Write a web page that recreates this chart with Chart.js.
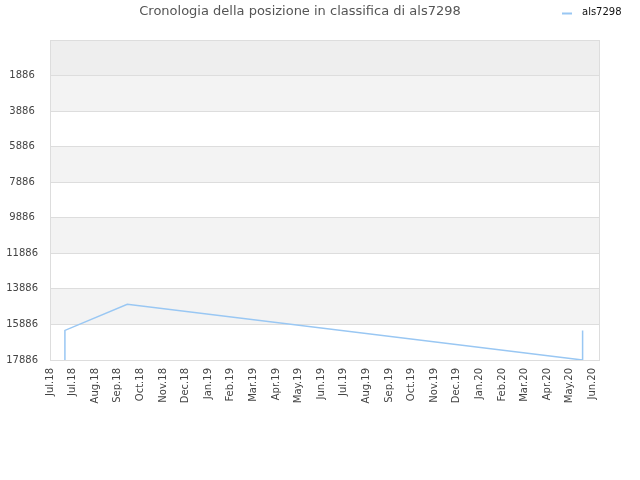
<!DOCTYPE html>
<html lang="it">
  <head>
    <meta charset="UTF-8" />
    <title>Cronologia della posizione in classifica di als7298</title>
    <script src="https://cdn.jsdelivr.net/npm/chart.js"></script>
    <style>
      body { margin: 0; background: #fff; }
      #wrap { width: 640px; height: 480px; }
    </style>
  </head>
  <body>
    <div id="wrap"><canvas id="rankChart"></canvas></div>

    <script>
      const monthLabels = [
        "Jul.18", "Jul.18", "Aug.18", "Sep.18", "Oct.18", "Nov.18", "Dec.18",
        "Jan.19", "Feb.19", "Mar.19", "Apr.19", "May.19", "Jun.19", "Jul.19",
        "Aug.19", "Sep.19", "Oct.19", "Nov.19", "Dec.19", "Jan.20", "Feb.20",
        "Mar.20", "Apr.20", "May.20", "Jun.20",
      ];
      const yTicks = [1886, 3886, 5886, 7886, 9886, 11886, 13886, 15886, 17886];

      // position in months from the first tick, and rank
      const pointX = [0.66, 0.66, 3.42, 23.57, 23.57];
      const rankValues = [17886, 16222, 14749, 17886, 16222];

      const lineColor = "#99c7f3";
      const font = "DejaVu Sans";

      // grey bands behind the grid
      const bands = {
        id: "bands",
        beforeDraw(chart) {
          const { ctx, chartArea: a, scales } = chart;
          const y = scales.y;
          const edges = [y.min].concat(yTicks);
          ctx.save();
          for (let i = 0; i < edges.length - 1; i++) {
            let fill = null;
            if (i === 0) fill = "#eeeeee";
            else if (i % 2 === 1) fill = "#f3f3f3";
            if (!fill) continue;
            const top = y.getPixelForValue(edges[i]);
            const bot = y.getPixelForValue(edges[i + 1]);
            ctx.fillStyle = fill;
            ctx.fillRect(a.left, top, a.right - a.left, bot - top);
          }
          ctx.restore();
        },
        afterDraw(chart) {
          const { ctx, chartArea: a } = chart;
          ctx.save();
          ctx.strokeStyle = "#dddddd";
          ctx.lineWidth = 1;
          ctx.strokeRect(a.left + 0.5, a.top + 0.5, a.right - a.left - 1, a.bottom - a.top);
          // legend
          const ds = chart.data.datasets[0];
          ctx.strokeStyle = ds.borderColor;
          ctx.lineWidth = 2;
          ctx.beginPath();
          ctx.moveTo(562, 13.5);
          ctx.lineTo(572, 13.5);
          ctx.stroke();
          ctx.fillStyle = "#111";
          ctx.font = "10px '" + font + "'";
          ctx.textBaseline = "middle";
          ctx.fillText(ds.label, 582, 12.5);
          ctx.restore();
        },
      };

      const ctx = document.getElementById("rankChart").getContext("2d");
      new Chart(ctx, {
        type: "line",
        data: {
          datasets: [
            {
              label: "als7298",
              data: pointX.map((x, i) => ({ x: x, y: rankValues[i] })),
              borderColor: lineColor,
              borderWidth: 1.5,
              pointRadius: 0,
              fill: false,
              tension: 0,
            },
          ],
        },
        options: {
          responsive: true,
          maintainAspectRatio: false,
          animation: false,
          layout: { padding: { left: 0, right: 40, top: 0, bottom: 0 } },
          plugins: {
            legend: { display: false },
            tooltip: { enabled: false },
            title: {
              display: true,
              text: "Cronologia della posizione in classifica di als7298",
              color: "#555",
              font: { family: font, size: 13, weight: "normal" },
              padding: { top: 4, bottom: 20.4 },
            },
          },
          scales: {
            x: {
              type: "linear",
              min: 0,
              max: 24.34,
              afterBuildTicks(scale) {
                scale.ticks = monthLabels.map((_, i) => ({ value: i }));
              },
              afterFit(scale) { scale.height = 120; },
              grid: { display: false, drawTicks: false },
              border: { display: false },
              ticks: {
                autoSkip: false,
                minRotation: 90,
                maxRotation: 90,
                padding: 8,
                color: "#444",
                font: { family: font, size: 10 },
                callback: (v, i) => monthLabels[i],
              },
            },
            y: {
              reverse: true,
              min: -114,
              max: 17886,
              afterBuildTicks(scale) {
                scale.ticks = yTicks.map((v) => ({ value: v }));
              },
              afterFit(scale) { scale.width = 50; },
              grid: { color: "#dddddd", drawTicks: false },
              border: { display: false },
              ticks: {
                crossAlign: "center",
                padding: 12,
                color: "#444",
                font: { family: font, size: 10 },
                callback: (v) => String(v),
              },
            },
          },
        },
        plugins: [bands],
      });
    </script>
  </body>
</html>
